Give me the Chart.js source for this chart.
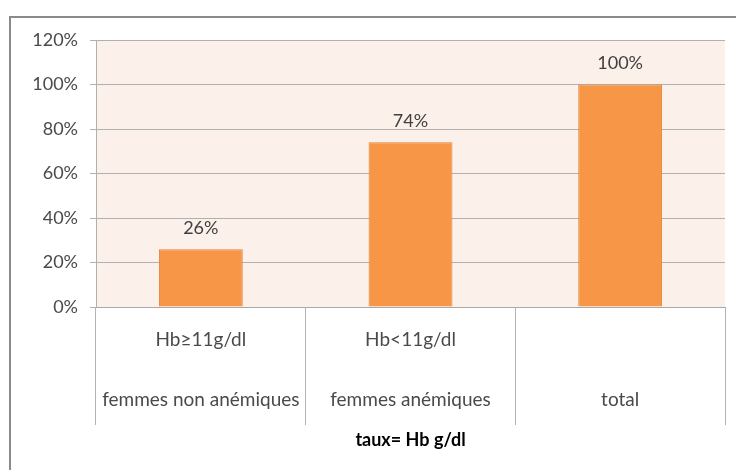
<!DOCTYPE html>
<html>
<head>
<meta charset="utf-8">
<script src="https://cdn.jsdelivr.net/npm/chart.js@4.4.1/dist/chart.umd.min.js"></script>
<style>
  html, body { margin: 0; padding: 0; background: #fff; }
  #wrap { position: relative; width: 736px; height: 470px; overflow: hidden; }
  #frame { position: absolute; left: 9px; top: 16px; width: 800px; height: 600px;
           border-left: 2px solid #8a8a8a; border-top: 2px solid #8a8a8a; }
  canvas { position: absolute; left: 0; top: 0; }
</style>
</head>
<body>
<div id="wrap">
  <div id="frame"></div>
  <canvas id="hbChart" width="736" height="470"></canvas>
</div>
<script>
// taux d'hémoglobine
const categories = [
  ["Hb\u226511g/dl", "femmes non an\u00e9miques"],
  ["Hb<11g/dl", "femmes an\u00e9miques"],
  ["", "total"]
];
const percents = [26, 74, 100];
const yTicks = [0, 20, 40, 60, 80, 100, 120];

const fontFamily = "Lato, 'Open Sans', sans-serif";

// fond rosé de la zone de tracé
const plotBackground = {
  id: "plotBackground",
  beforeDraw(chart) {
    const { ctx, chartArea } = chart;
    ctx.save();
    ctx.fillStyle = "#fcf0ea";
    ctx.fillRect(chartArea.left, chartArea.top, chartArea.right - chartArea.left, chartArea.bottom - chartArea.top);
    ctx.restore();
  }
};

// étiquettes de valeur au-dessus des barres
const valueLabels = {
  id: "valueLabels",
  afterDatasetsDraw(chart) {
    const { ctx } = chart;
    const meta = chart.getDatasetMeta(0);
    ctx.save();
    ctx.font = "18px " + fontFamily;
    ctx.fillStyle = "#404040";
    ctx.textAlign = "center";
    ctx.textBaseline = "middle";
    meta.data.forEach((bar, i) => {
      ctx.fillText(percents[i] + "%", bar.x, bar.y - 21);
    });
    ctx.restore();
  }
};

new Chart(document.getElementById("hbChart"), {
  type: "bar",
  data: {
    labels: categories,
    datasets: [{
      data: percents,
      backgroundColor: "#f79646",
      borderColor: "#e3823a",
      borderWidth: 1,
      barPercentage: 0.8,
      categoryPercentage: 0.5
    }]
  },
  plugins: [plotBackground, valueLabels],
  options: {
    responsive: false,
    animation: false,
    layout: { padding: { top: 40, right: 11, bottom: 0, left: 0 } },
    plugins: { legend: { display: false }, tooltip: { enabled: false } },
    scales: {
      x: {
        grid: {
          offset: true,
          drawOnChartArea: false,
          drawTicks: true,
          tickLength: 118,
          color: "#b4b4b4"
        },
        border: { color: "#a8a8a8" },
        ticks: {
          color: "#4a4a4a",
          padding: -115,
          font: { family: fontFamily, size: 19, lineHeight: "60px" }
        },
        title: {
          display: true,
          text: "taux= Hb g/dl",
          color: "#000",
          font: { family: fontFamily, size: 18, weight: "bold" },
          padding: { top: 0, bottom: 19 }
        },
        afterFit(scale) { scale.height = 163; }
      },
      y: {
        min: 0,
        max: 120,
        afterBuildTicks(scale) { scale.ticks = yTicks.map(v => ({ value: v })); },
        grid: { color: "#b0b0b0", tickLength: 6 },
        border: { color: "#b0b0b0" },
        ticks: {
          color: "#4a4a4a",
          padding: 12,
          font: { family: fontFamily, size: 18 },
          callback: v => v + "%"
        },
        afterFit(scale) { scale.width = 96; }
      }
    }
  }
});
</script>
</body>
</html>
